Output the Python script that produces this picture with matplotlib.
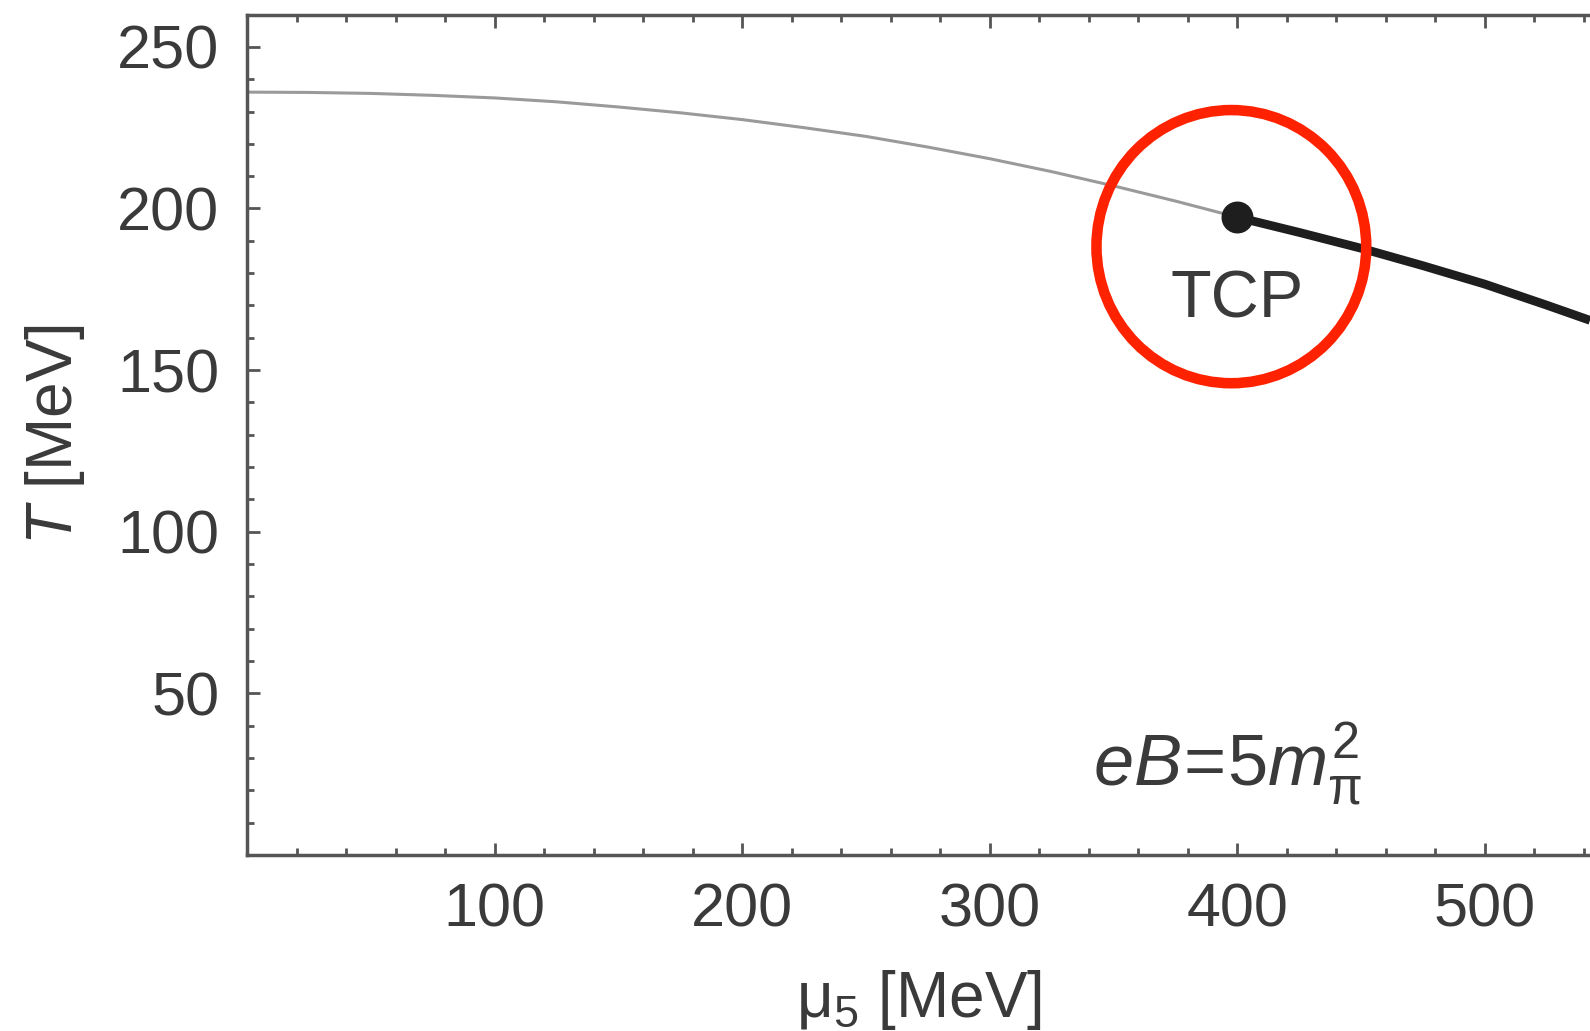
import matplotlib
matplotlib.use("Agg")
import matplotlib.pyplot as plt
from matplotlib.patches import Ellipse
from matplotlib.ticker import MultipleLocator

plt.rcParams['font.family'] = ['Liberation Sans', 'DejaVu Sans']
plt.rcParams['mathtext.fontset'] = 'custom'
plt.rcParams['mathtext.rm'] = 'Liberation Sans'
plt.rcParams['mathtext.it'] = 'Liberation Sans:italic'

# crossover line (thin, gray) and first-order line (thick, black)
mu5_crossover = [0, 25, 50, 75, 100, 125, 150, 175, 200, 225, 250, 275, 300, 325, 350, 375, 400]
T_crossover = [236.0, 235.9, 235.6, 235.0, 234.2, 233.0, 231.4, 229.6, 227.5,
               225.0, 222.3, 219.0, 215.4, 211.4, 207.0, 202.3, 197.3]
mu5_first = [400, 425, 450, 475, 500, 525, 542.5]
T_first = [197.3, 192.6, 187.7, 182.3, 176.6, 170.1, 165.4]
# tricritical point
tcp_mu5 = 400
tcp_T = 197.3

x_ticks = [100, 200, 300, 400, 500]
y_ticks = [50, 100, 150, 200, 250]

txt = '#3a3a3a'
spine_col = '#555555'

fig = plt.figure(figsize=(15.9, 10.31), dpi=100)
ax = fig.add_axes([0.1555, 0.1707, 0.8445, 0.8152])

ax.plot(mu5_crossover, T_crossover, color='#9a9a9a', lw=2.2, zorder=2)
ax.plot(mu5_first, T_first, color='#1e1e1e', lw=6.3, solid_capstyle='butt', zorder=3)
ax.plot([tcp_mu5], [tcp_T], 'o', color='#1e1e1e', ms=22, zorder=4)

ax.text(tcp_mu5, 171.6, 'TCP', fontsize=48, color=txt, ha='center', va='center')
ax.text(396, 28, r'$eB\!=\!5m_{\mathrm{\pi}}^{2}$', fontsize=52, color=txt,
        ha='center', va='center')

# red highlight ring around the TCP
ring = Ellipse((397.6, 188.2), width=109, height=84.5, fill=False,
               ec='#ff2200', lw=7.6, zorder=5, clip_on=False)
ax.add_patch(ring)

ax.set_xlim(0, 542.5)
ax.set_ylim(0, 260)
ax.set_xticks(x_ticks)
ax.set_yticks(y_ticks)
ax.xaxis.set_minor_locator(MultipleLocator(20))
ax.yaxis.set_minor_locator(MultipleLocator(10))
ax.tick_params(which='both', direction='in', top=True, right=False,
               color=spine_col, labelsize=44, labelcolor=txt, width=2)
ax.tick_params(which='major', length=9)
ax.tick_params(which='minor', length=5)
ax.tick_params(axis='x', pad=20)
ax.tick_params(axis='y', pad=20)

for side in ['left', 'bottom', 'top']:
    ax.spines[side].set_color(spine_col)
    ax.spines[side].set_linewidth(2.5)
ax.spines['right'].set_visible(False)

ax.set_xlabel('μ$_{5}$ [MeV]', fontsize=46, color=txt, labelpad=20)
ax.set_ylabel('$T$ [MeV]', fontsize=46, color=txt, labelpad=22)

fig.savefig('out.png', dpi=100)
